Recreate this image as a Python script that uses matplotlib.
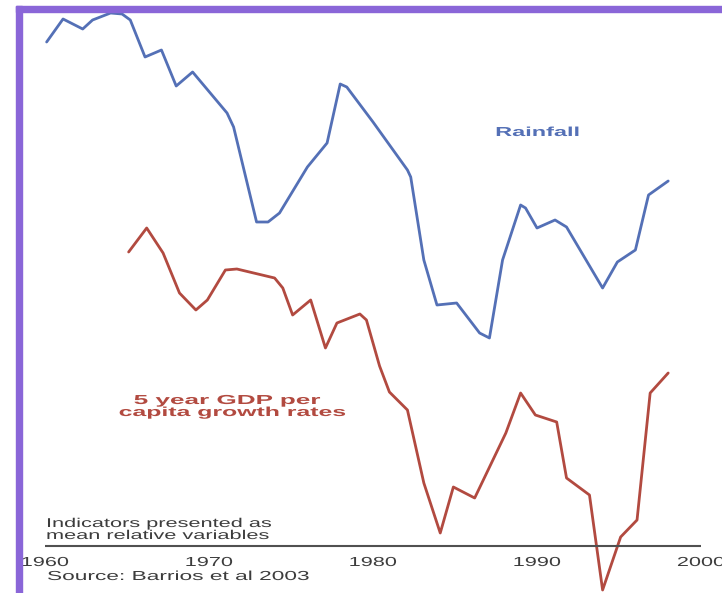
import matplotlib
matplotlib.use("Agg")
import matplotlib.pyplot as plt
from matplotlib.patches import Rectangle
from matplotlib.patheffects import AbstractPathEffect
from matplotlib.transforms import Affine2D

## data (mean relative values, axis line = 0)
rain_years = [1960.1, 1961.1, 1962.3, 1962.9, 1964.0, 1964.7, 1965.2, 1966.1, 1967.1,
              1968.0, 1969.0, 1971.1, 1971.5, 1972.9, 1973.6, 1974.3, 1976.0, 1977.2,
              1978.0, 1978.4, 1980.0, 1982.1, 1982.3, 1983.1, 1983.9, 1985.1, 1986.5,
              1987.1, 1987.9, 1989.0, 1989.3, 1990.0, 1991.1, 1991.8, 1994.0, 1994.9,
              1996.0, 1996.8, 1998.0]
rain_vals = [5.04, 5.27, 5.17, 5.26, 5.33, 5.32, 5.26, 4.89, 4.96,
             4.60, 4.74, 4.33, 4.19, 3.24, 3.24, 3.33, 3.79, 4.03,
             4.62, 4.59, 4.24, 3.76, 3.69, 2.86, 2.41, 2.43, 2.13,
             2.08, 2.86, 3.41, 3.38, 3.18, 3.26, 3.19, 2.58, 2.84,
             2.96, 3.51, 3.65]

gdp_years = [1965.1, 1966.2, 1967.2, 1968.2, 1969.2, 1969.9, 1971.0, 1971.7, 1974.0,
             1974.5, 1975.1, 1976.2, 1977.1, 1977.8, 1979.2, 1979.6, 1980.4, 1981.0,
             1982.1, 1983.1, 1984.1, 1984.9, 1986.2, 1988.1, 1989.0, 1989.9, 1991.2,
             1991.8, 1993.2, 1994.0, 1995.1, 1996.1, 1996.9, 1998.0]
gdp_vals = [2.94, 3.18, 2.93, 2.53, 2.36, 2.46, 2.76, 2.77, 2.68,
            2.58, 2.31, 2.46, 1.98, 2.23, 2.32, 2.26, 1.80, 1.54,
            1.36, 0.63, 0.13, 0.59, 0.48, 1.13, 1.53, 1.31, 1.24,
            0.68, 0.51, -0.44, 0.09, 0.26, 1.53, 1.73]

tick_years = [1960, 1970, 1980, 1990, 2000]


# the source picture is stretched sideways, text included
class Wide(AbstractPathEffect):
    def __init__(self, sx, center=False):
        super().__init__()
        self.sx = sx
        self.center = center

    def draw_path(self, renderer, gc, tpath, affine, rgbFace=None):
        m = affine.get_matrix().copy()
        if self.center:
            ext = tpath.get_extents()
            cx = (ext.x0 + ext.x1) / 2
            m[0, 2] += m[0, 0] * cx * (1 - self.sx)
        m[0, :2] *= self.sx
        renderer.draw_path(gc, tpath, Affine2D(m), rgbFace)


plt.rcParams['font.family'] = ['Liberation Sans', 'DejaVu Sans']

fig = plt.figure(figsize=(7.22, 5.93), dpi=100)
ax = fig.add_axes([0, 0, 1, 1])
ax.axis('off')
ax.set_xlim(1960 - 45 / 16.4, 1960 + 677 / 16.4)
ax.set_ylim(-0.47, 5.46)

ax.plot(rain_years, rain_vals, color='#5470b6', lw=2, solid_joinstyle='round',
        solid_capstyle='round')
ax.plot(gdp_years, gdp_vals, color='#b24a40', lw=2, solid_joinstyle='round',
        solid_capstyle='round')
ax.hlines(0, 1960, 2000, color='#505050', lw=1.5)

grey = '#3c3c3c'
for yr in tick_years:
    ax.text(yr, -0.20, str(yr), ha='center', va='baseline', fontsize=9.4, color=grey,
            path_effects=[Wide(1.66, center=True)])

ax.text(1987.45, 4.10, 'Rainfall', ha='left', va='baseline', fontsize=9.4,
        color='#5470b6', fontweight='bold', path_effects=[Wide(1.8)])
ax.text(1971.1, 1.42, '5 year GDP per', ha='center', va='baseline', fontsize=9.4,
        color='#b24a40', fontweight='bold', path_effects=[Wide(2.0, center=True)])
ax.text(1971.4, 1.30, 'capita growth rates', ha='center', va='baseline', fontsize=9.4,
        color='#b24a40', fontweight='bold', path_effects=[Wide(1.9, center=True)])

ax.text(1960.06, 0.19, 'Indicators presented as', ha='left', va='baseline',
        fontsize=9.2, color=grey, path_effects=[Wide(1.7)])
ax.text(1960.06, 0.07, 'mean relative variables', ha='left', va='baseline',
        fontsize=9.2, color=grey, path_effects=[Wide(1.7)])
ax.text(1960.12, -0.34, 'Source: Barrios et al 2003', ha='left', va='baseline',
        fontsize=9.4, color=grey, path_effects=[Wide(1.74)])

## purple frame on the left and top
W, H = 722, 593
fig.patches.append(Rectangle((16 / W, 0), 6 / W, 1 - 6 / H, transform=fig.transFigure,
                             color='#8a66d8', zorder=5))
fig.patches.append(Rectangle((16 / W, 1 - 12 / H), 1, 6 / H, transform=fig.transFigure,
                             color='#8a66d8', zorder=5))

fig.savefig('out.png', dpi=100)
